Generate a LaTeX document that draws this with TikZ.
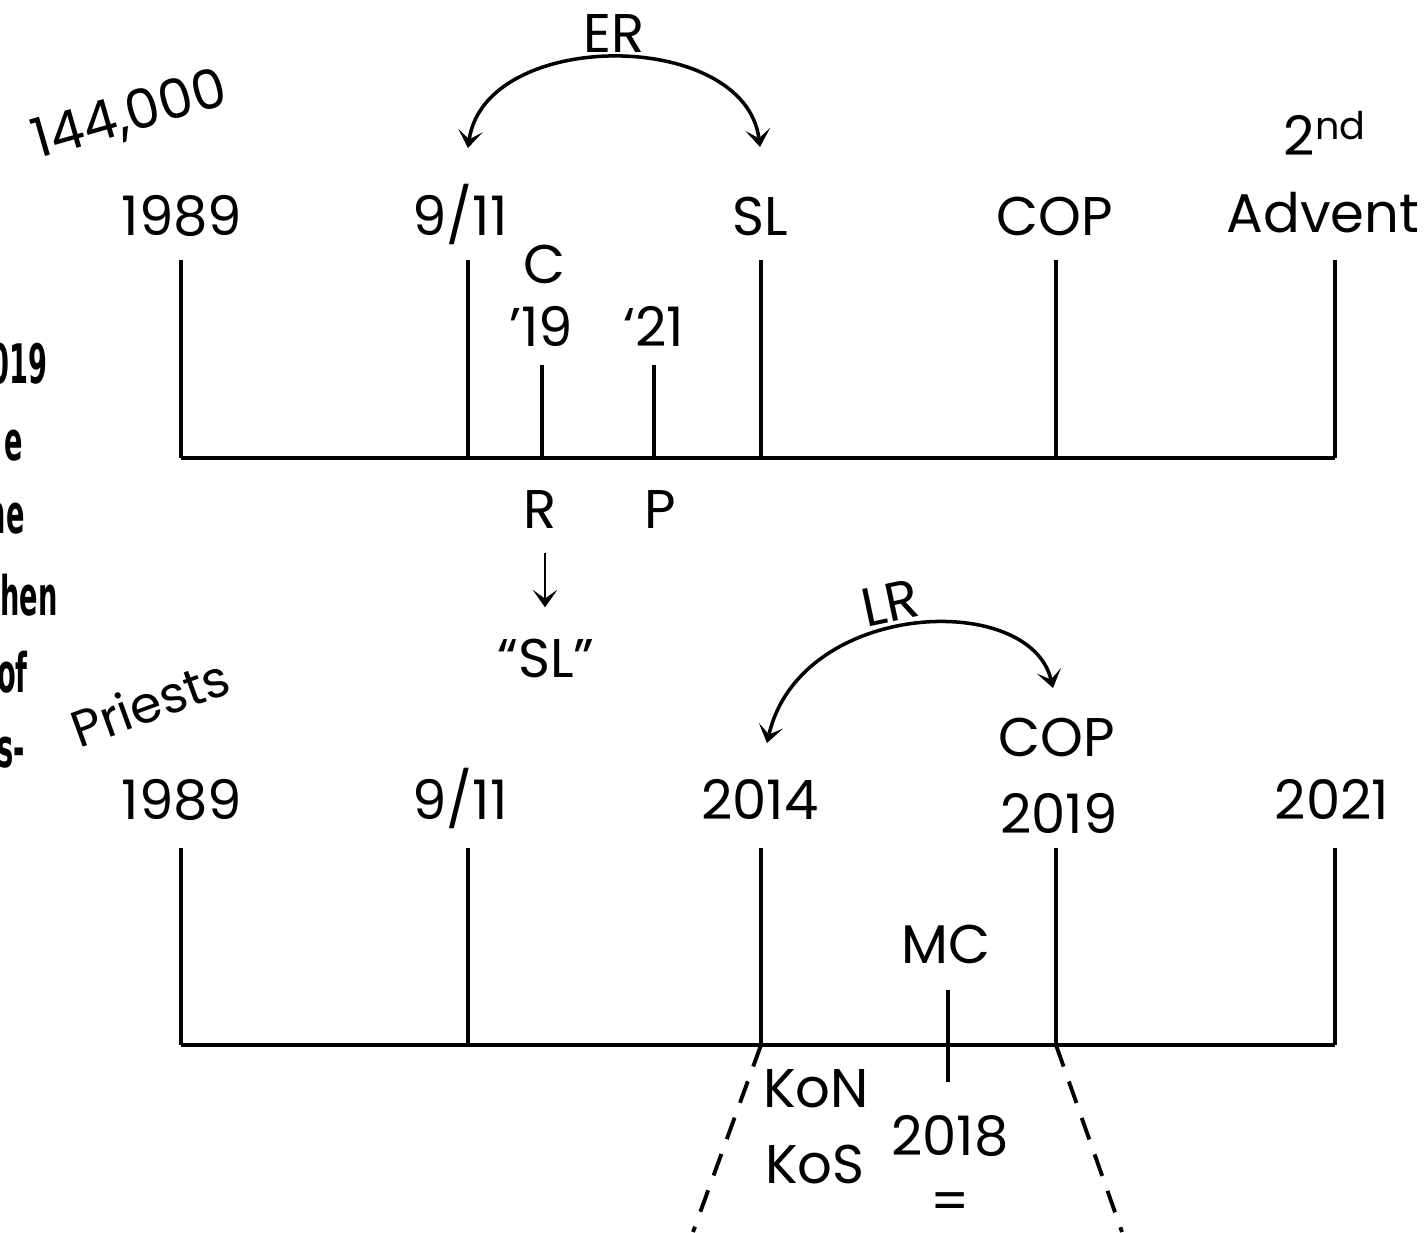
\documentclass[tikz,border=0pt]{standalone}
\usepackage{fontspec}
\setmainfont{Poppins}
\newfontfamily\notefont[FakeStretch=0.5]{DejaVu Sans}
\usetikzlibrary{arrows.meta}

\begin{document}
\begin{tikzpicture}[x=0.02cm, y=-0.02cm, >={Stealth[length=10pt, width=14pt, inset=5pt]},
    every node/.style={font=\fontsize{31}{36}\selectfont, inner sep=0pt},
    lbl/.style={anchor=base},
    note/.style={anchor=base east, font=\notefont\bfseries\fontsize{31}{36}\selectfont},
    tick/.style={line width=2.4pt},
    swing/.style={<->, line width=2pt},
    cut/.style={line width=2.2pt, dash pattern=on 13pt off 9pt}]
    \useasboundingbox (0,0) rectangle (1424,1232);

    % notes cut off at the left edge
    \begin{scope}
        \clip (0,0) rectangle (1424,1232);
        \node[note] (n1) at (48,383) {019};
        \node[note] (n2) at (23,460) {e};
        \node[note] (n3) at (25,533) {he};
        \node[note] (n4) at (58,615) {hen};
        \node[note] (n5) at (28,692) {of};
        \node[note] (n6) at (25,767) {s-};
    \end{scope}

    \node[rotate=16] (num) at (130,116) {144,000};
    \node[rotate=20, font=\fontsize{29}{34}\selectfont] (priests) at (150,702) {Priests};

    % upper time line
    \coordinate (ua) at (181,458);
    \coordinate (ub) at (1335,458);
    \draw[tick] (ua) -- (ub);
    \foreach \x in {181,468,761,1056,1335}
        \draw[tick] (\x,260) -- (\x,458);
    \foreach \x in {542,654}
        \draw[tick] (\x,365) -- (\x,458);

    \node[lbl] (u1989) at (182,235) {1989};
    \node[lbl] (u911) at (460,235) {9/11};
    \node[lbl] (usl) at (760,235) {SL};
    \node[lbl] (ucop) at (1055,235) {COP};
    \node[lbl] (uadv) at (1323,232) {Advent};
    \node[lbl] (usec) at (1325,155) {2\textsuperscript{nd}};
    \node[lbl] (uc) at (545,283) {C};
    \node[lbl] (u19) at (541,346) {’19};
    \node[lbl] (u21) at (654,346) {‘21};
    \node[lbl] (ur) at (540,528) {R};
    \node[lbl] (up) at (660,528) {P};
    \node[lbl] (usl2) at (546,677) {“SL”};
    \draw[->, line width=1.5pt] (ur.south) ++(5,25) coordinate (rs) -- ++(0,54) coordinate (re);

    \node[lbl] (er) at (614,52) {ER};
    \coordinate (era) at (468,148);
    \coordinate (erb) at (760,147);
    \draw[swing] (era) .. controls (485,28) and (745,28) .. (erb);

    % lower time line
    \coordinate (la) at (181,1045);
    \coordinate (lb) at (1335,1045);
    \draw[tick] (la) -- (lb);
    \foreach \x in {181,468,761,1056,1335}
        \draw[tick] (\x,848) -- (\x,1045);
    \draw[tick] (948,990) -- (948,1082);

    \node[lbl] (l1989) at (182,819) {1989};
    \node[lbl] (l911) at (460,819) {9/11};
    \node[lbl] (l2014) at (760,819) {2014};
    \node[lbl] (lcop) at (1057,756) {COP};
    \node[lbl] (l2019) at (1059,833) {2019};
    \node[lbl] (l2021) at (1332,819) {2021};
    \node[lbl] (mc) at (946,963) {MC};
    \node[lbl] (kon) at (816,1107) {KoN};
    \node[lbl] (kos) at (815,1183) {KoS};
    \node[lbl] (y18) at (950,1155) {2018};
    \node (eq) at (950,1207) {=};

    \node[rotate=12] (lr) at (890,603) {LR};
    \coordinate (lra) at (767,743);
    \coordinate (lrb) at (1053,688);
    \draw[swing] (lra) .. controls (800,600) and (1030,590) .. (lrb);

    \coordinate (da) at (761,1045);
    \coordinate (db) at (1056,1045);
    \draw[cut] (da) -- (693,1232);
    \draw[cut] (db) -- (1122,1232);
\end{tikzpicture}
\end{document}
